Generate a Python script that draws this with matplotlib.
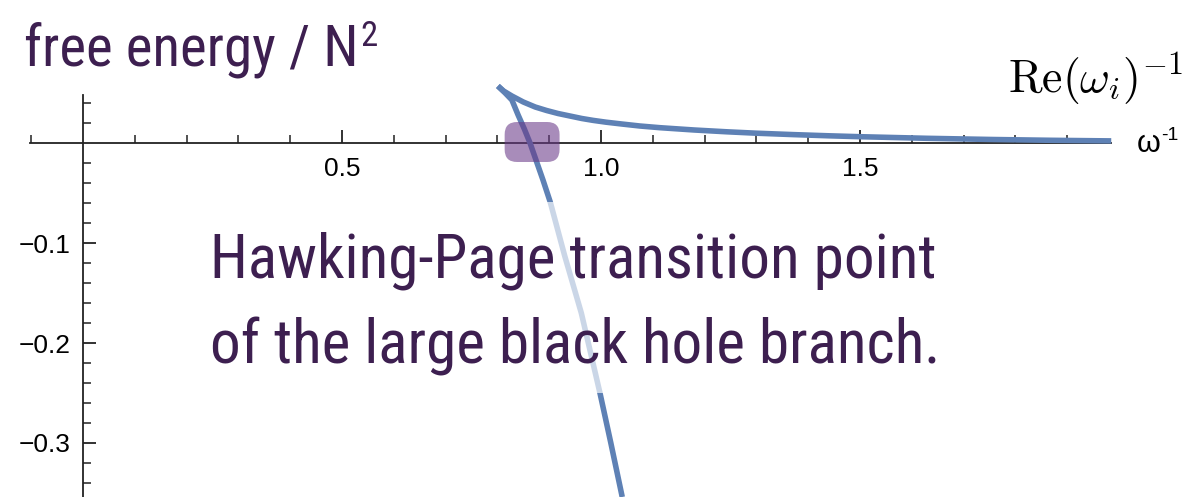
import numpy as np
import matplotlib
matplotlib.use("Agg")
import matplotlib.pyplot as plt
from matplotlib.patches import FancyBboxPatch, Rectangle
from matplotlib.ticker import FixedLocator

plt.rcParams['font.family'] = ['Liberation Sans', 'DejaVu Sans']
plt.rcParams['mathtext.fontset'] = 'cm'

# branches (x = omega^-1, y = free energy / N^2)
small_x = [0.801, 0.812, 0.828, 0.850, 0.873, 0.895, 0.917, 0.940, 0.963, 0.985, 1.010,
           1.040, 1.075, 1.114, 1.180, 1.243, 1.300, 1.371, 1.440, 1.500, 1.629, 1.757,
           1.870, 1.985]
small_y = [0.057, 0.052, 0.047, 0.041, 0.036, 0.0325, 0.0295, 0.027, 0.0245, 0.0226, 0.0208,
           0.019, 0.017, 0.0153, 0.013, 0.0112, 0.0098, 0.0084, 0.0072, 0.0063, 0.0047, 0.0035,
           0.0027, 0.0021]

large_x = [0.801, 0.815, 0.828, 0.840, 0.852, 0.863, 0.888, 0.902, 0.930, 0.962, 0.998, 1.019, 1.041]
large_y = [0.057, 0.050, 0.043, 0.028, 0.014, 0.000, -0.037, -0.059, -0.113, -0.170, -0.250, -0.300, -0.354]

hp_point = (0.867, 0.001)   # Hawking-Page transition point

x_major = [0.5, 1.0, 1.5]
x_minor = [-0.1, 0.1, 0.2, 0.3, 0.4, 0.6, 0.7, 0.8, 0.9, 1.1, 1.2, 1.3, 1.4, 1.6, 1.7, 1.8, 1.9]
y_major = [-0.1, -0.2, -0.3]
y_minor = [0.04, 0.02, -0.02, -0.04, -0.06, -0.08, -0.12, -0.14, -0.16, -0.18,
           -0.22, -0.24, -0.26, -0.28, -0.32, -0.34]

W, H = 1186, 497
fig = plt.figure(figsize=(W / 100, H / 100), dpi=100)
ax = fig.add_axes([0, 0, 1, 1])
ax.patch.set_alpha(0)

# 518 px per unit in x, 1000 px per unit in y, origin at pixel (83, 143)
ax.set_xlim(-83 / 518, (W - 83) / 518)
ax.set_ylim(-(H - 143) / 1000, 143 / 1000)

line_col = '#5e81b5'
ax.plot(small_x, small_y, color=line_col, lw=4.0, solid_capstyle='butt',
        solid_joinstyle='round', zorder=3)
ax.plot(large_x, large_y, color=line_col, lw=4.0, solid_capstyle='butt',
        solid_joinstyle='round', zorder=3)

# highlight box around the transition point
bw, bh = 0.106, 0.040
box = FancyBboxPatch((hp_point[0] - bw / 2, hp_point[1] - bh / 2), bw, bh,
                     boxstyle="round,pad=0,rounding_size=0.024",
                     mutation_aspect=518 / 1000,
                     fc='#6a3a88', ec='none', alpha=0.58, zorder=4)
ax.add_patch(box)

# axes through the origin
for s in ['top', 'right']:
    ax.spines[s].set_visible(False)
ax.spines['left'].set_position(('data', 0))
ax.spines['bottom'].set_position(('data', 0))
ax.spines['left'].set_bounds(-0.354, 0.048)
ax.spines['bottom'].set_bounds(-0.102, 1.985)
for s in ['left', 'bottom']:
    ax.spines[s].set_linewidth(1.3)
    ax.spines[s].set_color('#222222')

ax.xaxis.set_major_locator(FixedLocator(x_major))
ax.xaxis.set_minor_locator(FixedLocator(x_minor))
ax.yaxis.set_major_locator(FixedLocator(y_major))
ax.yaxis.set_minor_locator(FixedLocator(y_minor))
ax.set_xticklabels(['0.5', '1.0', '1.5'])
ax.set_yticklabels(['\u22120.1', '\u22120.2', '\u22120.3'])
ax.tick_params(which='major', direction='in', length=9.5, width=1.3, color='#222222',
               labelsize=19)
ax.tick_params(which='minor', direction='in', length=6, width=1.1, color='#222222')
ax.tick_params(axis='x', which='major', pad=10)
ax.tick_params(axis='y', which='major', pad=9)

# white veil behind the annotation text (fades the curve there)
veil = Rectangle((200 / W, 1 - 393 / H), 740 / W, 191 / H, transform=fig.transFigure,
                 fc='white', ec='none', alpha=0.68, zorder=5)
ax.add_patch(veil)

purple = '#3d1f50'
narrow = ['Roboto Condensed', 'Liberation Sans']
fig.text(210 / W, 1 - 278 / H, 'Hawking-Page transition point', family=narrow,
         fontsize=44, color=purple, va='baseline', ha='left', zorder=6)
fig.text(210 / W, 1 - 364 / H, 'of the large black hole branch.', family=narrow,
         fontsize=44, color=purple, va='baseline', ha='left', zorder=6)

title = fig.text(24 / W, 1 - 65 / H, 'free energy / N', family=narrow,
                 fontsize=41, color=purple, va='baseline', ha='left')
ax.annotate('2', xy=(1.0, 1 - 46 / H), xycoords=(title, 'figure fraction'),
            xytext=(1.5, 0), textcoords='offset points', family=narrow,
            fontsize=25, color=purple, va='baseline', ha='left')

fig.text(1183 / W, 1 - 92 / H, r'$\mathrm{Re}(\omega_i)^{-1}$', fontsize=33,
         color='black', va='baseline', ha='right')

fig.text(1137 / W, 1 - 144 / H, '\u03c9', fontsize=22, color='black',
         va='center', ha='left')
fig.text(1161 / W, 1 - 135 / H, '-1', fontsize=14, color='black',
         va='center', ha='left')

fig.savefig('out.png', dpi=100)
